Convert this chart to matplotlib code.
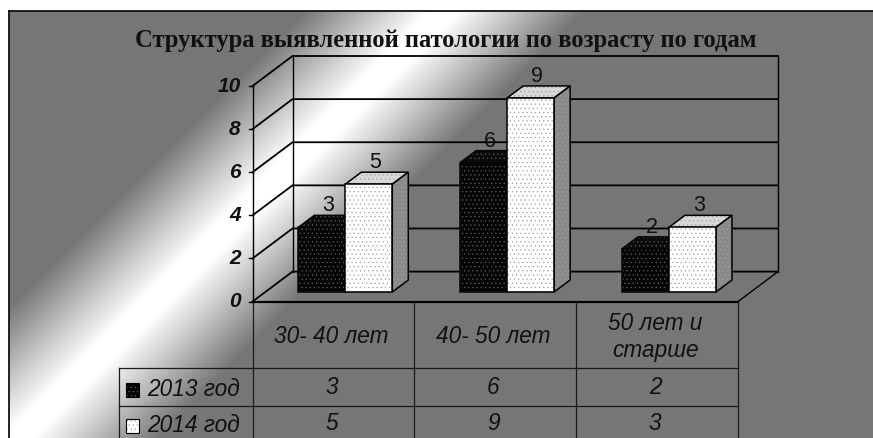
#!/usr/bin/env python3
# -*- coding: utf-8 -*-
import numpy as np
import matplotlib
matplotlib.use("Agg")
import matplotlib.pyplot as plt
from matplotlib.patches import Polygon, Rectangle

title = "Структура выявленной патологии по возрасту по годам"
categories = ["30- 40 лет", "40- 50 лет", "50 лет и\nстарше"]
series_names = ["2013 год", "2014 год"]
values_2013 = [3, 6, 2]
values_2014 = [5, 9, 3]
yticks = [0, 2, 4, 6, 8, 10]

W, H = 873, 438
plt.rcParams["font.family"] = "Liberation Sans"
plt.rcParams["hatch.linewidth"] = 0.4

fig = plt.figure(figsize=(W/100, H/100), dpi=100, facecolor="white")
ax = fig.add_axes([0, 0, 1, 1])
ax.set_xlim(0, W)
ax.set_ylim(H, 0)
ax.axis("off")

# chart geometry, in pixels
x0, x1 = 252.5, 738.0      # front edge of floor
y0 = 301.6
ppu = 21.56                # pixels per unit of value
dx, dy = 40.0, 30.0        # depth of the box
catw = (x1-x0)/len(categories)
barw = 47.0
d_front, d_back = 0.32, 0.72   # where the bars sit in the depth


def proj(xf, v, d=0.0):
    return xf+dx*d, y0-v*ppu-dy*d


# background with the diagonal band
fx, fy = 9, 11
xx, yy = np.meshgrid(np.arange(fx, W), np.arange(fy, H))
t = np.clip((np.abs(xx+yy-455.0)-15.0)/125.0, 0, 1)
grey = 255-(255-118)*t
ax.imshow(grey, cmap="gray", vmin=0, vmax=255, extent=(fx, W, H, fy), aspect="auto", zorder=0)
ax.set_xlim(0, W)
ax.set_ylim(H, 0)
ax.plot([fx, fx], [H, fy], color="#111111", lw=1.3, zorder=1)
ax.plot([fx, W], [fy, fy], color="#111111", lw=1.3, zorder=1)

ax.text(445.5, 40, title, family="Liberation Serif", fontweight="bold", fontsize=17.7,
        ha="center", va="center", color="#111111", zorder=30)

# walls and floor
ymax = max(yticks)
lw_box = 1.3
for v in yticks:
    xa, ya = proj(x0, v)
    xb, yb = proj(x0, v, 1)
    xc, yc = proj(x1, v, 1)
    ax.plot([xa, xb, xc], [ya, yb, yc], color="black", lw=lw_box, zorder=2)
    ax.plot([xa-4, xa], [ya, ya], color="black", lw=1, zorder=2)
    ax.text(xa-12, ya, str(v), ha="right", va="center", fontsize=15, fontweight="bold",
            style="italic", color="#111111", zorder=30)
xa, ya = proj(x0, ymax)
ax.plot([xa, xa], [y0, ya], color="black", lw=1, zorder=2)
xb, yb = proj(x0, ymax, 1)
ax.plot([xb, xb], [y0-dy, yb], color="black", lw=1, zorder=2)
xc, yc = proj(x1, ymax, 1)
ax.plot([xc, xc], [y0-dy, yc], color="black", lw=1, zorder=2)
ax.plot([x1, x1+dx], [y0, y0-dy], color="black", lw=1, zorder=2)


def draw_bar(xf, v, front, top, side, dots, edge, z):
    a = proj(xf, 0, d_front)
    b = proj(xf+barw, 0, d_front)
    c = proj(xf+barw, v, d_front)
    d = proj(xf, v, d_front)
    e = proj(xf, v, d_back)
    f = proj(xf+barw, v, d_back)
    g = proj(xf+barw, 0, d_back)
    for pts, col in [((d, c, f, e), top), ((b, g, f, c), side), ((a, b, c, d), front)]:
        ax.add_patch(Polygon(pts, closed=True, facecolor=col, edgecolor=dots, hatch="....", lw=0, zorder=z))
        ax.add_patch(Polygon(pts, closed=True, fill=False, edgecolor=edge, lw=1.1, zorder=z))
    # label sits over the top face, a bit above its back edge
    mx = xf+barw/2+dx*d_front+6.5
    my = y0-v*ppu-dy*d_back-9.5
    ax.text(mx, my, str(v), ha="center", va="center", fontsize=15.5, color="#111111", zorder=20)


z = 3
for i in range(len(categories)):
    xs = x0+catw*i+33.0
    draw_bar(xs, values_2013[i], "#050505", "#0a0a0a", "#0a0a0a", "#606060", "#050505", z)
    draw_bar(xs+barw, values_2014[i], "white", "#d8d8d8", "#8a8a8a", "#a0a0a0", "black", z+1)
    z += 2

# data table under the chart
left = 119.0
row_y = [y0, 368.0, 406.0, H]
row_mid = [388.0, 424.0]
ax.plot([x0, x1], [y0, y0], color="black", lw=1.6, zorder=15)
for yr in row_y[1:3]:
    ax.plot([left, x1], [yr, yr], color="#1a1a1a", lw=0.9, zorder=15)
ax.plot([left, left], [row_y[1], H], color="#1a1a1a", lw=0.9, zorder=15)
for i in range(len(categories)+1):
    xv = x0+catw*i
    ax.plot([xv, xv], [y0, H], color="#1a1a1a", lw=0.9, zorder=15)

for i, cat in enumerate(categories):
    ax.text(x0+catw*(i+0.5)-2, (row_y[0]+row_y[1])/2+2, cat, ha="center", va="center", fontsize=16.3,
            style="italic", color="#111111", linespacing=1.25, zorder=30)
for r, vals in enumerate([values_2013, values_2014]):
    ym = row_mid[r]
    for i, v in enumerate(vals):
        ax.text(x0+catw*(i+0.5)-2, ym, str(v), ha="center", va="center", fontsize=16.3,
                style="italic", color="#111111", zorder=30)
    ax.text(147, ym+1, series_names[r], ha="left", va="center", fontsize=16.3,
            style="italic", color="#111111", zorder=30)
    key = "#050505" if r == 0 else "white"
    ax.add_patch(Rectangle((125.5, ym-5), 13.5, 13.5, facecolor=key, edgecolor="#606060" if r == 0 else "#a0a0a0",
                           hatch="....", lw=0, zorder=20))
    ax.add_patch(Rectangle((125.5, ym-5), 13.5, 13.5, fill=False, edgecolor="black", lw=0.8, zorder=20))

fig.savefig("out.png", dpi=100)
